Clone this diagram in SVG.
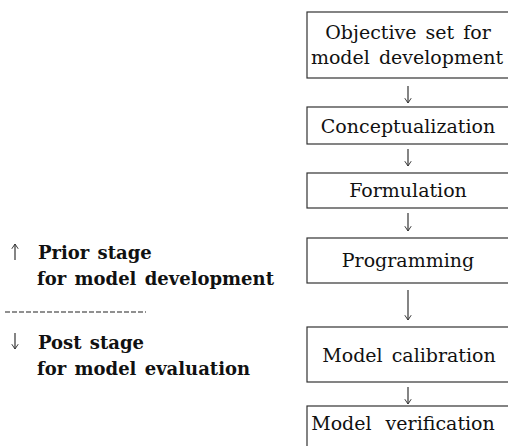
<svg xmlns="http://www.w3.org/2000/svg" width="508" height="446" viewBox="0 0 508 446">
<defs>
<style>
.box{fill:#fff;stroke:#333;stroke-width:1.2}
.t{font-family:"DejaVu Serif","Liberation Serif",serif;font-size:19px;fill:#111;text-anchor:middle;word-spacing:3px}
.l{font-family:"DejaVu Serif","Liberation Serif",serif;font-size:18px;font-weight:bold;fill:#111;word-spacing:2px}
.c{stroke:#333;stroke-width:1.2;fill:none}
</style>
<marker id="ah" viewBox="0 0 10 10" refX="9" refY="5" markerWidth="8" markerHeight="8" orient="auto" markerUnits="userSpaceOnUse">
<path d="M3,1 L9,5 L3,9" fill="none" stroke="#333" stroke-width="1.2"/>
</marker>
</defs>
<rect width="508" height="446" fill="#fff"/>
<g id="n1"><rect class="box" x="307" y="12" width="204" height="66"/><text class="t" x="408" y="39">Objective set for</text><text class="t" x="407" y="64">model development</text></g>
<g id="n2"><rect class="box" x="307" y="107" width="204" height="37"/><text class="t" x="408" y="133">Conceptualization</text></g>
<g id="n3"><rect class="box" x="307" y="173" width="204" height="35"/><text class="t" x="408" y="197">Formulation</text></g>
<g id="n4"><rect class="box" x="307" y="238" width="204" height="45"/><text class="t" x="408" y="267">Programming</text></g>
<g id="n5"><rect class="box" x="307" y="327" width="204" height="55"/><text class="t" x="409" y="362">Model calibration</text></g>
<g id="n6"><rect class="box" x="307" y="406" width="204" height="50"/><text class="t" x="403" y="430" style="word-spacing:8px">Model verification</text></g>
<g id="connectors">
<line class="c" x1="408" y1="86" x2="408" y2="103" marker-end="url(#ah)"/>
<line class="c" x1="408" y1="149" x2="408" y2="166" marker-end="url(#ah)"/>
<line class="c" x1="408" y1="213" x2="408" y2="231" marker-end="url(#ah)"/>
<line class="c" x1="408" y1="290" x2="408" y2="320" marker-end="url(#ah)"/>
<line class="c" x1="408" y1="387" x2="408" y2="404" marker-end="url(#ah)"/>
</g>
<g id="legend">
<line class="c" x1="15" y1="260" x2="15" y2="244" marker-end="url(#ah)"/>
<text class="l" x="38" y="259">Prior stage</text>
<text class="l" x="37" y="285">for model development</text>
<line x1="5" y1="312" x2="146" y2="312" stroke="#222" stroke-width="1.2" stroke-dasharray="5,2"/>
<line class="c" x1="15" y1="333" x2="15" y2="349" marker-end="url(#ah)"/>
<text class="l" x="38" y="349">Post stage</text>
<text class="l" x="37" y="375">for model evaluation</text>
</g>
</svg>
